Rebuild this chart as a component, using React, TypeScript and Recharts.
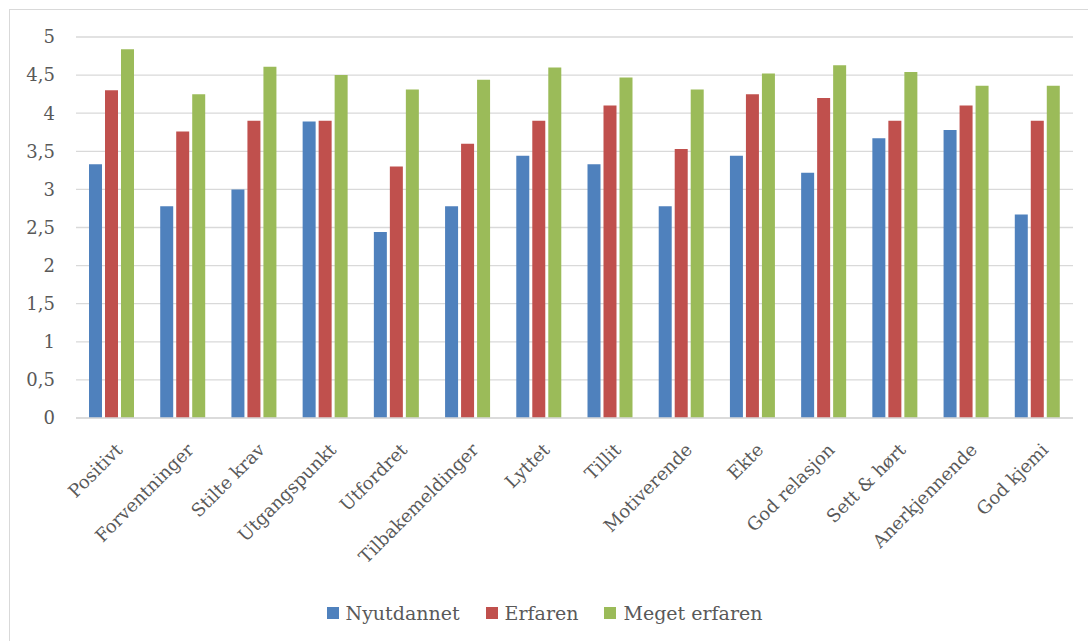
import React from "react";
import { BarChart, Bar, XAxis, YAxis, CartesianGrid, Legend } from "recharts";

const categories = [
  "Positivt", "Forventninger", "Stilte krav", "Utgangspunkt", "Utfordret", "Tilbakemeldinger", "Lyttet",
  "Tillit", "Motiverende", "Ekte", "God relasjon", "Sett & hørt", "Anerkjennende", "God kjemi",
];
const nyutdannet = [3.33, 2.78, 3.0, 3.89, 2.44, 2.78, 3.44, 3.33, 2.78, 3.44, 3.22, 3.67, 3.78, 2.67];
const erfaren = [4.3, 3.76, 3.9, 3.9, 3.3, 3.6, 3.9, 4.1, 3.53, 4.25, 4.2, 3.9, 4.1, 3.9];
const megetErfaren = [4.84, 4.25, 4.61, 4.5, 4.31, 4.44, 4.6, 4.47, 4.31, 4.52, 4.63, 4.54, 4.36, 4.36];
const yTicks = [0, 0.5, 1, 1.5, 2, 2.5, 3, 3.5, 4, 4.5, 5];

const seriesNames = ["Nyutdannet", "Erfaren", "Meget erfaren"];
const colors = ["#4F81BD", "#C0504D", "#9BBB59"];

const data = categories.map((c, i) => ({
  name: c,
  a: nyutdannet[i],
  b: erfaren[i],
  c: megetErfaren[i],
}));

const FONT = "'DejaVu Serif', serif";
const TEXT = "#595959";

const LegendContent = () => (
  <div style={{ display: "flex", justifyContent: "center", alignItems: "center", height: 25, paddingLeft: 6, fontFamily: FONT, fontSize: 19, color: TEXT }}>
    {seriesNames.map((n, i) => (
      <div key={n} style={{ display: "flex", alignItems: "center", marginRight: i < 2 ? 26 : 0 }}>
        <span style={{ display: "inline-block", width: 12, height: 12, background: colors[i], marginRight: 7 }} />
        <span>{n}</span>
      </div>
    ))}
  </div>
);

export default function App() {
  return (
    <div style={{ position: "absolute", left: 9, top: 9, width: 1078, height: 631, borderTop: "1px solid #d9d9d9", borderLeft: "1px solid #d9d9d9", background: "#fff", overflow: "hidden" }}>
      <BarChart
        width={1078}
        height={631}
        data={data}
        margin={{ top: 27, right: 15, left: 0, bottom: 16 }}
        barGap={3}
        barSize={13}
      >
        <CartesianGrid vertical={false} stroke="#d9d9d9" strokeWidth={1.3} />
        <XAxis
          dataKey="name"
          interval={0}
          angle={-45}
          textAnchor="end"
          height={182}
          tickLine={false}
          axisLine={{ stroke: "#d9d9d9", strokeWidth: 1.3 }}
          tickMargin={18}
          tick={{ fill: TEXT, fontSize: 18, fontFamily: FONT, dx: 3 }}
        />
        <YAxis
          domain={[0, 5]}
          ticks={yTicks}
          width={66}
          tickLine={false}
          axisLine={false}
          tickMargin={15}
          tickFormatter={(v: number) => String(v).replace(".", ",")}
          tick={{ fill: TEXT, fontSize: 18, fontFamily: FONT }}
        />
        <Legend verticalAlign="bottom" content={<LegendContent />} />
        <Bar dataKey="a" name={seriesNames[0]} fill={colors[0]} isAnimationActive={false} />
        <Bar dataKey="b" name={seriesNames[1]} fill={colors[1]} isAnimationActive={false} />
        <Bar dataKey="c" name={seriesNames[2]} fill={colors[2]} isAnimationActive={false} />
      </BarChart>
    </div>
  );
}
